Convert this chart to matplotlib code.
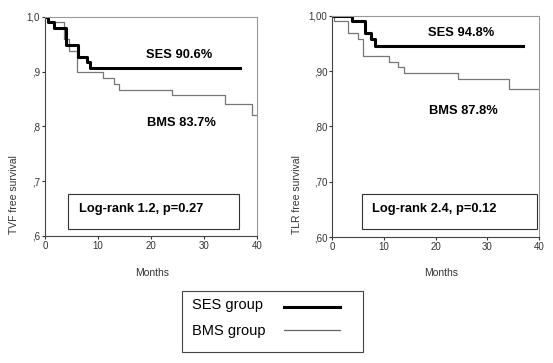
import matplotlib.pyplot as plt
from matplotlib.patches import Rectangle
from matplotlib.lines import Line2D

plt.rcParams["font.family"] = ["Liberation Sans", "DejaVu Sans"]

# Kaplan-Meier steps (months, survival)
tvf_ses_t = [0, 0.5, 1.7, 3.9, 6.3, 8.0, 8.5, 36.8]
tvf_ses_s = [1.0, 0.990, 0.979, 0.948, 0.927, 0.917, 0.907, 0.907]
tvf_bms_t = [0, 0.5, 3.5, 4.6, 6.0, 11.0, 13.0, 14.0, 24.0, 34.0, 39.0, 40.0]
tvf_bms_s = [1.0, 0.990, 0.959, 0.938, 0.899, 0.888, 0.878, 0.867, 0.857, 0.841, 0.821, 0.821]

tlr_ses_t = [0, 3.9, 6.3, 7.6, 8.3, 37.0]
tlr_ses_s = [1.0, 0.990, 0.969, 0.958, 0.945, 0.945]
tlr_bms_t = [0, 0.3, 3.0, 5.0, 6.0, 11.0, 12.8, 14.0, 24.3, 34.2, 40.0]
tlr_bms_s = [1.0, 0.990, 0.970, 0.958, 0.927, 0.917, 0.907, 0.897, 0.886, 0.867, 0.867]

x_ticks = [0, 10, 20, 30, 40]
tvf_yticks = [0.6, 0.7, 0.8, 0.9, 1.0]
tvf_ylabels = [",6", ",7", ",8", ",9", "1,0"]
tlr_yticks = [0.6, 0.7, 0.8, 0.9, 1.0]
tlr_ylabels = [",60", ",70", ",80", ",90", "1,00"]

fig = plt.figure(figsize=(5.53, 3.63), dpi=100)
ax1 = fig.add_axes([0.0814, 0.3499, 0.3834, 0.6033])
ax2 = fig.add_axes([0.6004, 0.3471, 0.3743, 0.609])

panels = [
    (ax1, tvf_ses_t, tvf_ses_s, tvf_bms_t, tvf_bms_s, tvf_yticks, tvf_ylabels,
     "SES 90.6%", (0.476, 0.826), "BMS 83.7%", (0.481, 0.516),
     "Log-rank 1.2, p=0.27", (0.108, 0.032, 0.807, 0.16), (0.16, 0.123)),
    (ax2, tlr_ses_t, tlr_ses_s, tlr_bms_t, tlr_bms_s, tlr_yticks, tlr_ylabels,
     "SES 94.8%", (0.464, 0.923), "BMS 87.8%", (0.469, 0.570),
     "Log-rank 2.4, p=0.12", (0.145, 0.036, 0.845, 0.159), (0.193, 0.127)),
]

for (ax, st, ss, bt, bs, yt, yl, slab, spos, blab, bpos, lr, box, lpos) in panels:
    ax.step(bt, bs, where="post", color="#777777", lw=0.9)
    ax.step(st, ss, where="post", color="black", lw=2.2)
    ax.set_xlim(0, 40)
    ax.set_ylim(0.6, 1.0)
    ax.set_xticks(x_ticks)
    ax.set_yticks(yt)
    ax.set_yticklabels(yl)
    ax.tick_params(labelsize=7, length=2, width=0.8, pad=1.5, colors="#333333")
    for side in ["top", "right"]:
        ax.spines[side].set_color("#999999")
        ax.spines[side].set_linewidth(0.8)
    for side in ["left", "bottom"]:
        ax.spines[side].set_color("#444444")
        ax.spines[side].set_linewidth(0.8)
    ax.text(spos[0], spos[1], slab, transform=ax.transAxes, fontsize=9.3,
            fontweight="bold", va="center", ha="left")
    ax.text(bpos[0], bpos[1], blab, transform=ax.transAxes, fontsize=9.3,
            fontweight="bold", va="center", ha="left")
    ax.add_patch(Rectangle((box[0], box[1]), box[2], box[3], transform=ax.transAxes,
                           fill=False, edgecolor="#333333", lw=0.8, clip_on=False))
    ax.text(lpos[0], lpos[1], lr, transform=ax.transAxes, fontsize=9.3,
            fontweight="bold", va="center", ha="left")

fig.text(0.025, 0.463, "TVF free survival", rotation=90, fontsize=7.5,
         va="center", ha="center", color="#333333")
fig.text(0.537, 0.463, "TLR free survival", rotation=90, fontsize=7.5,
         va="center", ha="center", color="#333333")
fig.text(152 / 553, 0.248, "Months", fontsize=7.5, ha="center", va="center", color="#333333")
fig.text(441 / 553, 0.248, "Months", fontsize=7.5, ha="center", va="center", color="#333333")

# legend box
fig.add_artist(Rectangle((182 / 553, 1 - 352 / 363), 181 / 553, 61 / 363,
                         transform=fig.transFigure, fill=False, edgecolor="#444444", lw=0.8))
fig.text(192 / 553, 1 - 305 / 363, "SES group", fontsize=10.5, va="center", ha="left")
fig.text(192 / 553, 1 - 331 / 363, "BMS group", fontsize=10.5, va="center", ha="left")
fig.add_artist(Line2D([284 / 553, 340 / 553], [1 - 307 / 363, 1 - 307 / 363],
                      transform=fig.transFigure, color="black", lw=2.2))
fig.add_artist(Line2D([284 / 553, 340 / 553], [1 - 330 / 363, 1 - 330 / 363],
                      transform=fig.transFigure, color="#666666", lw=0.9))

fig.savefig("out.png", dpi=100)
